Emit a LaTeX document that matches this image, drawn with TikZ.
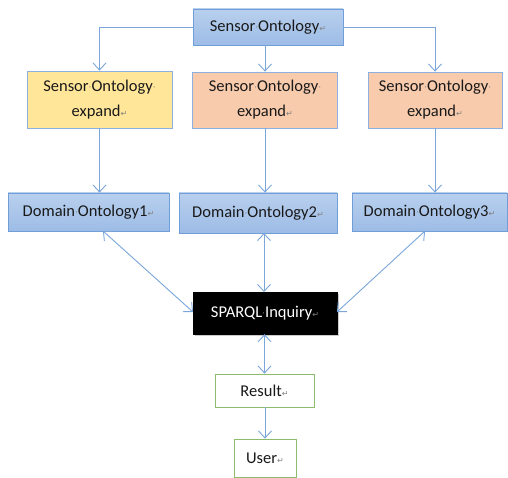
\documentclass[tikz,border=0pt]{standalone}
\usepackage{fontspec}
\setmainfont{Carlito}
\newfontfamily\dvfont{DejaVu Sans}
\usetikzlibrary{arrows.meta,shadows}
\definecolor{arrowblue}{HTML}{7AA6DA}
\definecolor{boxedge}{HTML}{6F9ED8}
\definecolor{bluetop}{HTML}{B9D0EE}
\definecolor{bluebot}{HTML}{9DBCE6}
\definecolor{yellowfill}{HTML}{FFE699}
\definecolor{orangefill}{HTML}{F8CBAD}
\definecolor{greenedge}{HTML}{70AD47}
\newcommand{\mdot}{{\dvfont\color{gray}\fontsize{9}{9}\selectfont\raisebox{0.1em}{·}}}
\newcommand{\retmark}{{\dvfont\color{gray}\fontsize{8}{8}\selectfont ↵}}
\tikzset{
  base/.style={rectangle, inner sep=2pt, font=\fontsize{16.5}{25}\selectfont, align=center, text=black!90},
  bluebox/.style={base, draw=boxedge, line width=0.8pt, top color=bluetop, bottom color=bluebot},
  yellowbox/.style={base, draw=boxedge!80, line width=0.8pt, fill=yellowfill},
  orangebox/.style={base, draw=boxedge!80, line width=0.8pt, fill=orangefill},
  blackbox/.style={base, fill=black, draw=black, text=white, drop shadow={shadow xshift=1.5pt, shadow yshift=-1.5pt, opacity=0.4}},
  greenbox/.style={base, draw=greenedge!80, line width=0.8pt, fill=white},
  arr/.style={draw=arrowblue, line width=0.9pt, -{Straight Barb[length=7pt,width=13pt]}},
  darr/.style={draw=arrowblue, line width=0.9pt, {Straight Barb[length=7pt,width=13pt]}-{Straight Barb[length=7pt,width=13pt]}}
}
\begin{document}
\begin{tikzpicture}[x=1pt,y=-1pt]
\useasboundingbox (0,0) rectangle (508,478);
\node[bluebox, minimum width=150pt, minimum height=36pt] (so) at (268,27) {Sensor\mdot Ontology\retmark};
\node[yellowbox, minimum width=145pt, minimum height=57pt] (se1) at (99.5,99.5) {Sensor\mdot Ontology\mdot\\expand\retmark};
\node[orangebox, minimum width=145pt, minimum height=56pt] (se2) at (265,100) {Sensor\mdot Ontology\mdot\\expand\retmark};
\node[orangebox, minimum width=134pt, minimum height=56pt] (se3) at (435,100) {Sensor\mdot Ontology\mdot\\expand\retmark};
\node[bluebox, minimum width=161pt, minimum height=38pt] (d1) at (88.5,212) {Domain\mdot Ontology1\retmark};
\node[bluebox, minimum width=158pt, minimum height=40pt] (d2) at (258,213) {Domain\mdot Ontology2\retmark};
\node[bluebox, minimum width=155pt, minimum height=38pt] (d3) at (429.5,212) {Domain\mdot Ontology3\retmark};
\node[blackbox, minimum width=144pt, minimum height=42pt] (sq) at (265,313) {SPARQL\mdot Inquiry\retmark};
\node[greenbox, minimum width=99pt, minimum height=33pt] (res) at (264.5,390.5) {Result\retmark};
\node[greenbox, minimum width=62pt, minimum height=38pt] (usr) at (265,458) {User\retmark};
\coordinate (d1b) at (103,231);
\coordinate (d2b) at (264,233);
\coordinate (d3b) at (425,231);
\coordinate (sql) at (193,312);
\coordinate (sqr) at (337,312);
\coordinate (sqt) at (264,292);
\draw[arr] (so.west) -| (se1.north);
\draw[arr] (so.east) -| (se3.north);
\draw[arr] (so.south -| se2.north) -- (se2.north);
\draw[arr] (se1.south) -- (se1.south |- d1.north);
\draw[arr] (se2.south) -- (se2.south |- d2.north);
\draw[arr] (se3.south) -- (se3.south |- d3.north);
\draw[darr] (d1b) -- (sql);
\draw[darr] (d2b) -- (sqt);
\draw[darr] (d3b) -- (sqr);
\draw[darr] (sq.south -| res.north) -- (res.north);
\draw[arr] (res.south -| usr.north) -- (usr.north);
\end{tikzpicture}
\end{document}
